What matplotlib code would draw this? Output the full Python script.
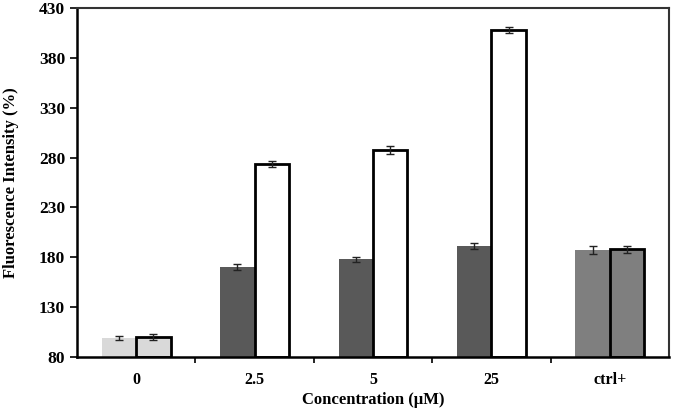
import numpy as np
import matplotlib.pyplot as plt
import matplotlib as mpl

mpl.rcParams.update({
    'font.family': 'serif',
    'font.serif': ['Liberation Serif', 'DejaVu Serif'],
    'font.weight': 'bold',
})

# data
categories = ['0', '2.5', '5', '25', 'ctrl+']
left_vals = [99.5, 170, 178, 191, 187.5]
left_err = [2, 3, 2.5, 3, 4]
right_vals = [100.5, 274, 288, 408, 188]
right_err = [3, 3, 4, 3, 3.5]

left_colors = ['#d9d9d9', '#595959', '#595959', '#595959', '#7f7f7f']
right_colors = ['#d9d9d9', 'white', 'white', 'white', '#7f7f7f']

fig = plt.figure(figsize=(6.75, 4.12), dpi=100)
ax = fig.add_axes([77 / 675, 1 - 357 / 412, 592 / 675, 349 / 412])

x = np.arange(len(categories)) + 0.5
w = 0.29
ax.bar(x - w / 2, [v - 80 for v in left_vals], w, bottom=80,
       color=left_colors, linewidth=0, zorder=2)
ax.bar(x + w / 2, [v - 80 for v in right_vals], w, bottom=80,
       color=right_colors, edgecolor='black', linewidth=2, zorder=2)
ax.errorbar(x - w / 2, left_vals, yerr=left_err, fmt='none', ecolor='#222222',
            elinewidth=1, capsize=3, capthick=1, zorder=3)
ax.errorbar(x + w / 2, right_vals, yerr=right_err, fmt='none', ecolor='#222222',
            elinewidth=1, capsize=3, capthick=1, zorder=3)

ax.set_xlim(0, 5)
ax.set_ylim(80, 430)
ax.set_yticks(np.arange(80, 431, 50))
# group separators as major ticks, category names on minor ticks
ax.set_xticks(np.arange(1, 5), minor=False)
ax.set_xticklabels([])
ax.set_xticks(x, minor=True)
ax.set_xticklabels(categories, minor=True, fontsize=11.5, fontweight='bold')
ax.tick_params(axis='x', which='minor', length=0, pad=11)
ax.tick_params(axis='x', which='major', length=4, width=1.2, direction='out')
ax.tick_params(axis='y', length=5, width=1.2, direction='out', labelsize=12.5)
for lbl in ax.get_yticklabels():
    lbl.set_fontweight('bold')

for s in ['left', 'bottom']:
    ax.spines[s].set_linewidth(1.8)
    ax.spines[s].set_color('black')
for s in ['top', 'right']:
    ax.spines[s].set_linewidth(1.5)
    ax.spines[s].set_color('#333333')

ax.set_ylabel('Fluorescence Intensity (%)', fontsize=12, fontweight='bold', labelpad=14)
ax.set_xlabel('Concentration (\u00b5M)', fontsize=12, fontweight='bold', labelpad=3)

fig.savefig('out.png', dpi=100)
